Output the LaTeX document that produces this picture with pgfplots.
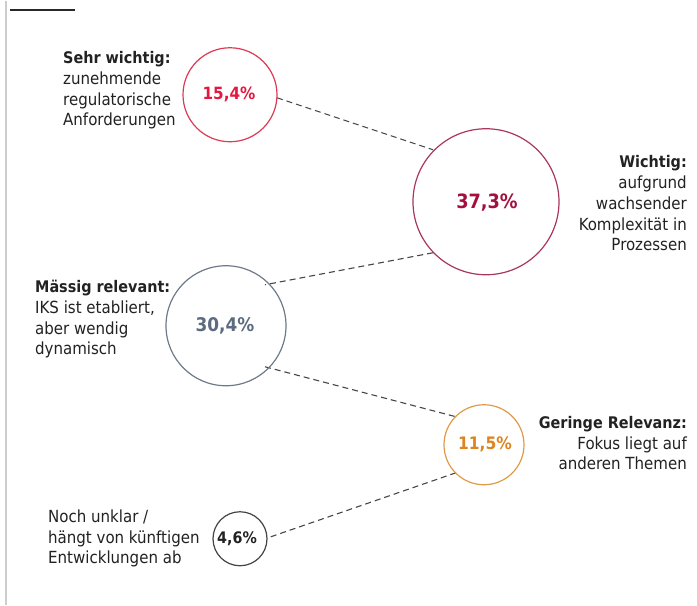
\documentclass[border=0pt]{standalone}
\usepackage{pgfplots}
\pgfplotsset{compat=1.18}
\usepackage{fontspec}
\setmainfont{DejaVu Sans Condensed}
\definecolor{cAt}{HTML}{E5173F}\definecolor{cAe}{HTML}{DC3A55}
\definecolor{cBt}{HTML}{A3103F}\definecolor{cBe}{HTML}{A8385A}
\definecolor{cCt}{HTML}{5B6B80}\definecolor{cCe}{HTML}{6E7A8A}
\definecolor{cDt}{HTML}{DD8420}\definecolor{cDe}{HTML}{E09A45}
\definecolor{cEt}{HTML}{222222}\definecolor{cEe}{HTML}{444444}
\tikzset{lbl/.style={font=\fontsize{16.7}{20.7}\selectfont, inner sep=0pt, text=cEt}}
\newcommand{\hd}[1]{{\fontsize{16}{20.7}\selectfont\bfseries #1}}
\begin{document}
\begin{tikzpicture}
\begin{axis}[
  scale only axis, width=697pt, height=604pt,
  xmin=0, xmax=697, ymin=0, ymax=604, y dir=reverse,
  hide axis, clip=false,
]
\path (axis cs:0,0) rectangle (axis cs:697,604);
% decorations
\addplot[draw={rgb,255:red,205;green,205;blue,205}, line width=1.5pt] coordinates {(6,0) (6,604)};
\addplot[draw={rgb,255:red,40;green,40;blue,40}, line width=2.5pt] coordinates {(10,9) (75,9)};
% connectors
\addplot[draw={rgb,255:red,70;green,70;blue,70}, line width=1.1pt, dash pattern=on 6pt off 4pt] coordinates {(277,97) (433,149)};
\addplot[draw={rgb,255:red,70;green,70;blue,70}, line width=1.1pt, dash pattern=on 6pt off 4pt] coordinates {(433,252) (265,284)};
\addplot[draw={rgb,255:red,70;green,70;blue,70}, line width=1.1pt, dash pattern=on 6pt off 4pt] coordinates {(265,366) (456,416)};
\addplot[draw={rgb,255:red,70;green,70;blue,70}, line width=1.1pt, dash pattern=on 6pt off 4pt] coordinates {(456,472) (268,537)};
% circles (radius in px)
\addplot[only marks, mark=o, mark size=47, mark options={draw=cAe, line width=1.2pt}] coordinates {(230,94)};
\addplot[only marks, mark=o, mark size=73, mark options={draw=cBe, line width=1.2pt}] coordinates {(486,201)};
\addplot[only marks, mark=o, mark size=60, mark options={draw=cCe, line width=1.2pt}] coordinates {(226,325)};
\addplot[only marks, mark=o, mark size=40, mark options={draw=cDe, line width=1.2pt}] coordinates {(484,444)};
\addplot[only marks, mark=o, mark size=27, mark options={draw=cEe, line width=1.2pt}] coordinates {(240,538)};
% values
\node[inner sep=0pt, text=cAt, font=\fontsize{16.9}{20}\selectfont\bfseries] at (axis cs:229,94) {15,4\%};
\node[inner sep=0pt, text=cBt, font=\fontsize{19.7}{22}\selectfont\bfseries] at (axis cs:487,202) {37,3\%};
\node[inner sep=0pt, text=cCt, font=\fontsize{18.8}{22}\selectfont\bfseries] at (axis cs:225,325) {30,4\%};
\node[inner sep=0pt, text=cDt, font=\fontsize{17.2}{20}\selectfont\bfseries] at (axis cs:485,444) {11,5\%};
\node[inner sep=0pt, text=cEt, font=\fontsize{15.9}{20}\selectfont\bfseries] at (axis cs:237,538) {4,6\%};
% labels (anchored at the baseline of the last line)
\node[lbl, anchor=base west, align=left] at (axis cs:63,125) {\hd{Sehr wichtig:}\\zunehmende\\regulatorische\\Anforderungen};
\node[lbl, anchor=base east, align=right] at (axis cs:687,250) {\hd{Wichtig:}\\aufgrund\\wachsender\\Komplexität in\\Prozessen};
\node[lbl, anchor=base west, align=left] at (axis cs:35,354) {\hd{Mässig relevant:}\\IKS ist etabliert,\\aber wendig\\dynamisch};
\node[lbl, anchor=base east, align=right] at (axis cs:687,469) {\hd{Geringe Relevanz:}\\Fokus liegt auf\\anderen Themen};
\node[lbl, anchor=base west, align=left] at (axis cs:48,563) {Noch unklar /\\hängt von künftigen\\Entwicklungen ab};
\end{axis}
\end{tikzpicture}
\end{document}
